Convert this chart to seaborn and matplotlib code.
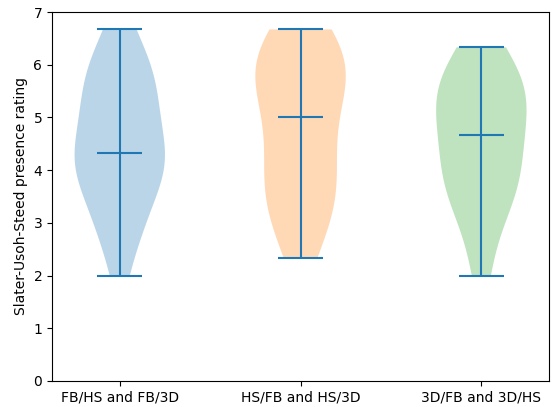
import numpy as np
import pandas as pd
import matplotlib
matplotlib.use("Agg")
import matplotlib.pyplot as plt
import seaborn as sns

conditions = ["FB/HS and FB/3D", "HS/FB and HS/3D", "3D/FB and 3D/HS"]

# presence ratings per participant (mean of items, steps of 1/3)
fb_ratings = [2.0, 2.67, 3.0, 3.0, 3.33, 3.67, 4.0, 4.0, 4.0, 4.0, 4.33, 4.33,
              4.33, 4.67, 5.0, 5.0, 5.33, 5.33, 5.67, 5.67, 6.0, 6.0, 6.33, 6.67]
hs_ratings = [2.33, 2.67, 3.0, 3.33, 3.33, 3.67, 3.67, 4.0, 4.33, 4.33, 4.67, 5.0,
              5.33, 5.33, 5.67, 5.67, 6.0, 6.0, 6.0, 6.33, 6.33, 6.67, 6.67]
td_ratings = [2.0, 2.67, 3.33, 3.33, 3.67, 3.67, 4.0, 4.33, 4.33, 4.33, 5.0, 5.0,
              5.0, 5.33, 5.33, 5.67, 5.67, 6.0, 6.0, 6.33]

groups = [fb_ratings, hs_ratings, td_ratings]
df = pd.concat([pd.DataFrame({"Condition": c, "Rating": g}) for c, g in zip(conditions, groups)],
               ignore_index=True)

fig, ax = plt.subplots(figsize=(5.53, 4.07), dpi=100)
fig.subplots_adjust(left=0.094, right=0.993, top=0.9705, bottom=0.064)

sns.violinplot(data=df, x="Condition", y="Rating", hue="Condition", order=conditions,
               palette=["tab:blue", "tab:orange", "tab:green"], saturation=1,
               cut=0, inner=None, density_norm="width", width=0.5, linewidth=0,
               legend=False, ax=ax)
for coll in ax.collections:
    coll.set_alpha(0.3)
    coll.set_edgecolor("none")

# min / max / median bars like matplotlib's violinplot
pos = np.arange(len(groups))
mins = [np.min(g) for g in groups]
maxs = [np.max(g) for g in groups]
meds = [np.median(g) for g in groups]
ax.vlines(pos, mins, maxs, color="tab:blue", lw=1.5)
for vals in (mins, maxs, meds):
    ax.hlines(vals, pos - 0.125, pos + 0.125, color="tab:blue", lw=1.5)

ax.set_xlim(-0.375, 2.375)
ax.set_ylim(0, 7)
ax.set_xlabel("")
ax.set_ylabel("Slater-Usoh-Steed presence rating")

plt.savefig("out.png", dpi=100)
